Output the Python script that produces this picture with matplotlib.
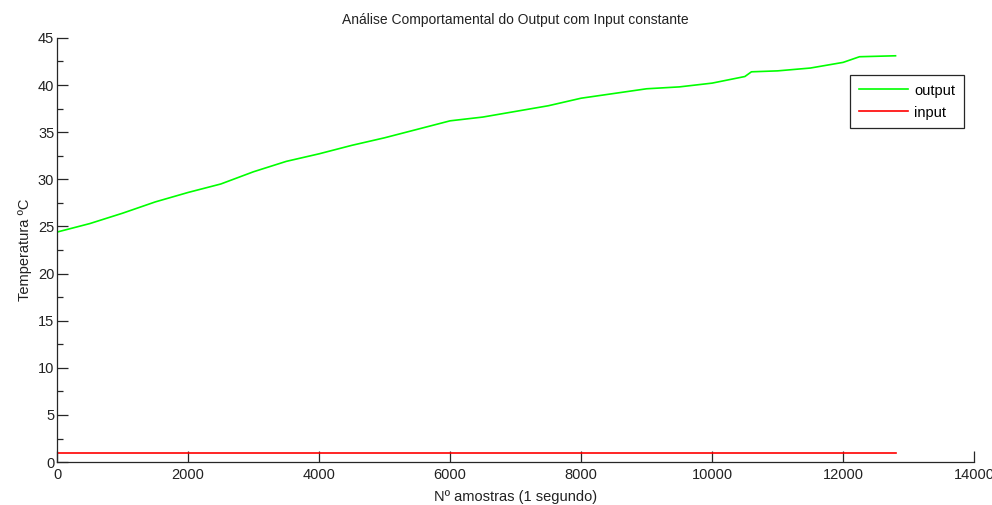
"""
Temperature response of the system when the input is held constant.
Saves out.png.
"""
import numpy as np
import matplotlib
matplotlib.use("Agg")  # headless
import matplotlib.pyplot as plt
from matplotlib.ticker import MultipleLocator

plt.rcParams["font.family"] = ["Liberation Sans", "DejaVu Sans"]

# Output temperature (ºC) sampled along the run (1 sample per second)
output_samples = [0, 500, 1000, 1500, 2000, 2500, 3000, 3500, 4000, 4500,
                  5000, 5500, 6000, 6500, 7000, 7500, 8000, 8500, 9000,
                  9500, 10000, 10500, 10600, 11000, 11500, 12000, 12250, 12800]
output_temp = [24.4, 25.3, 26.4, 27.6, 28.6, 29.5, 30.8, 31.9, 32.7, 33.6,
               34.4, 35.3, 36.2, 36.6, 37.2, 37.8, 38.6, 39.1, 39.6,
               39.8, 40.2, 40.9, 41.4, 41.5, 41.8, 42.4, 43.0, 43.1]

# Constant input applied over the whole run
input_samples = [0, 12800]
input_level = [1, 1]

fig = plt.figure(figsize=(9.92, 5.05), dpi=100)
ax = fig.add_axes([0.0575, 0.085, 0.9245, 0.84])

ax.plot(output_samples, output_temp, color="#00ff00", linewidth=1.2, label="output")
ax.plot(input_samples, input_level, color="#ff0000", linewidth=1.2, label="input")

ax.set_xlim(0, 14000)
ax.set_ylim(0, 45)
ax.xaxis.set_major_locator(MultipleLocator(2000))
ax.yaxis.set_major_locator(MultipleLocator(5))
ax.yaxis.set_minor_locator(MultipleLocator(2.5))

for side in ("top", "right"):
    ax.spines[side].set_visible(False)
for side in ("left", "bottom"):
    ax.spines[side].set_color("#262626")
    ax.spines[side].set_linewidth(0.9)

ax.tick_params(which="major", direction="in", length=8, width=0.9,
               color="#262626", labelsize=10.5, labelcolor="#222222", pad=2)
ax.tick_params(axis="x", which="major", pad=4)
ax.tick_params(which="minor", direction="in", length=4, width=0.9, color="#262626")

ax.set_title("Análise Comportamental do Output com Input constante",
             fontsize=10, color="#222222", pad=10)
ax.set_xlabel("Nº amostras (1 segundo)", fontsize=10.5, color="#222222", labelpad=6)
ax.set_ylabel("Temperatura ºC", fontsize=10.5, color="#222222", labelpad=4)

leg = ax.legend(loc="upper right", bbox_to_anchor=(0.989, 0.913), fontsize=10.5,
                frameon=True, fancybox=False, framealpha=1, edgecolor="#262626",
                handlelength=3.4, borderpad=0.6, labelspacing=0.55,
                handletextpad=0.4, borderaxespad=0)
leg.get_frame().set_linewidth(0.9)

fig.savefig("out.png", dpi=100)
